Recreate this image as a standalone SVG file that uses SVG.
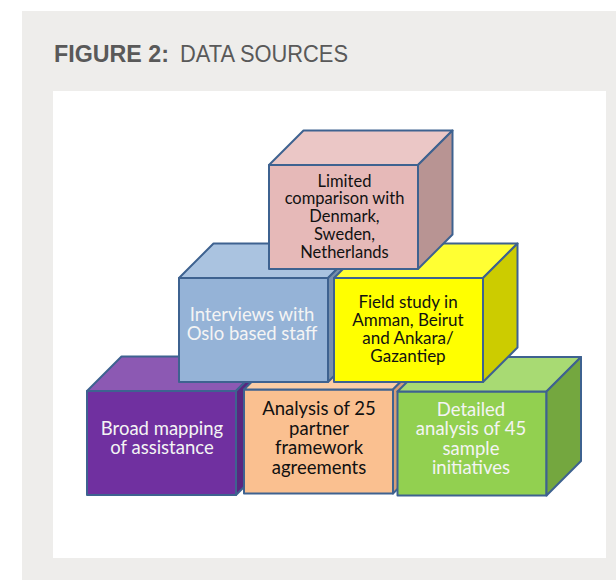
<svg xmlns="http://www.w3.org/2000/svg" width="616" height="580" viewBox="0 0 616 580">
<style>
.e{stroke:#3E6290;stroke-width:2;stroke-linejoin:round}
.t{font-family:Lato,"Liberation Sans",sans-serif;text-anchor:middle}
.w{fill:#F4F4F4}
.k{fill:#111111}
</style>
<rect x="0" y="0" width="616" height="580" fill="#FFFFFF"/>
<rect x="22" y="11" width="594" height="569" fill="#EEEDEB"/>
<rect x="53" y="91" width="553" height="467" fill="#FFFFFF"/>
<text y="62" font-family="'Liberation Sans',Arial,sans-serif" font-size="23" fill="#595959"><tspan x="54" font-weight="bold" textLength="115" lengthAdjust="spacingAndGlyphs">FIGURE 2:</tspan><tspan x="180" textLength="168" lengthAdjust="spacingAndGlyphs">DATA SOURCES</tspan></text>
<g id="connectors"/>
<g id="broad-mapping">
<rect class="e" x="87" y="391" width="149" height="104" fill="#7030A0"/>
<polygon class="e" points="87,391 121.5,356.5 270.5,356.5 236,391" fill="#8C59B3"/>
<polygon class="e" points="236,391 270.5,356.5 270.5,460.5 236,495" fill="#59267F"/>
<text class="t w" font-size="18.5"><tspan x="162" y="435">Broad mapping</tspan><tspan x="162" y="453.5">of assistance</tspan></text>
</g>
<g id="partner-agreements">
<rect class="e" x="244" y="389.5" width="149" height="104" fill="#FAC090"/>
<polygon class="e" points="244,389.5 278.5,355 427.5,355 393,389.5" fill="#FBCDA6"/>
<polygon class="e" points="393,389.5 427.5,355 427.5,459 393,493.5" fill="#D59E78"/>
<text class="t k" font-size="18.5"><tspan x="319" y="415">Analysis of 25</tspan><tspan x="319" y="434.5">partner</tspan><tspan x="319" y="454">framework</tspan><tspan x="319" y="473.5">agreements</tspan></text>
</g>
<g id="sample-initiatives">
<rect class="e" x="397.5" y="391.5" width="149" height="104" fill="#92D050"/>
<polygon class="e" points="397.5,391.5 432,357 581,357 546.5,391.5" fill="#A8DA73"/>
<polygon class="e" points="546.5,391.5 581,357 581,461 546.5,495.5" fill="#74A73F"/>
<text class="t w" font-size="18.5"><tspan x="471" y="415.5">Detailed</tspan><tspan x="471" y="435">analysis of 45</tspan><tspan x="471" y="454.5">sample</tspan><tspan x="471" y="474">initiatives</tspan></text>
</g>
<g id="oslo-interviews">
<rect class="e" x="179" y="278" width="149" height="104" fill="#95B3D7"/>
<polygon class="e" points="179,278 213.5,243.5 362.5,243.5 328,278" fill="#AAC3E0"/>
<polygon class="e" points="328,278 362.5,243.5 362.5,347.5 328,382" fill="#778FAC"/>
<text class="t w" font-size="18.5"><tspan x="252" y="320.5">Interviews with</tspan><tspan x="252" y="340">Oslo based staff</tspan></text>
</g>
<g id="field-study">
<rect class="e" x="334" y="278" width="149" height="104" fill="#FFFF00"/>
<polygon class="e" points="334,278 368.5,243.5 517.5,243.5 483,278" fill="#FFFF33"/>
<polygon class="e" points="483,278 517.5,243.5 517.5,347.5 483,382" fill="#CCCC00"/>
<text class="t k" font-size="17"><tspan x="408" y="307.5">Field study in</tspan><tspan x="408" y="326">Amman, Beirut</tspan><tspan x="408" y="344">and Ankara/</tspan><tspan x="408" y="362">Gazantiep</tspan></text>
</g>
<g id="comparison">
<rect class="e" x="269" y="165" width="149" height="104" fill="#E6B9B8"/>
<polygon class="e" points="269,165 303.5,130.5 452.5,130.5 418,165" fill="#EBC7C6"/>
<polygon class="e" points="418,165 452.5,130.5 452.5,234.5 418,269" fill="#B89493"/>
<text class="t k" font-size="16.5"><tspan x="344.5" y="186.5">Limited</tspan><tspan x="344.5" y="203.5">comparison with</tspan><tspan x="344.5" y="221.5">Denmark,</tspan><tspan x="344.5" y="239.5">Sweden,</tspan><tspan x="344.5" y="257.5">Netherlands</tspan></text>
</g>
</svg>
